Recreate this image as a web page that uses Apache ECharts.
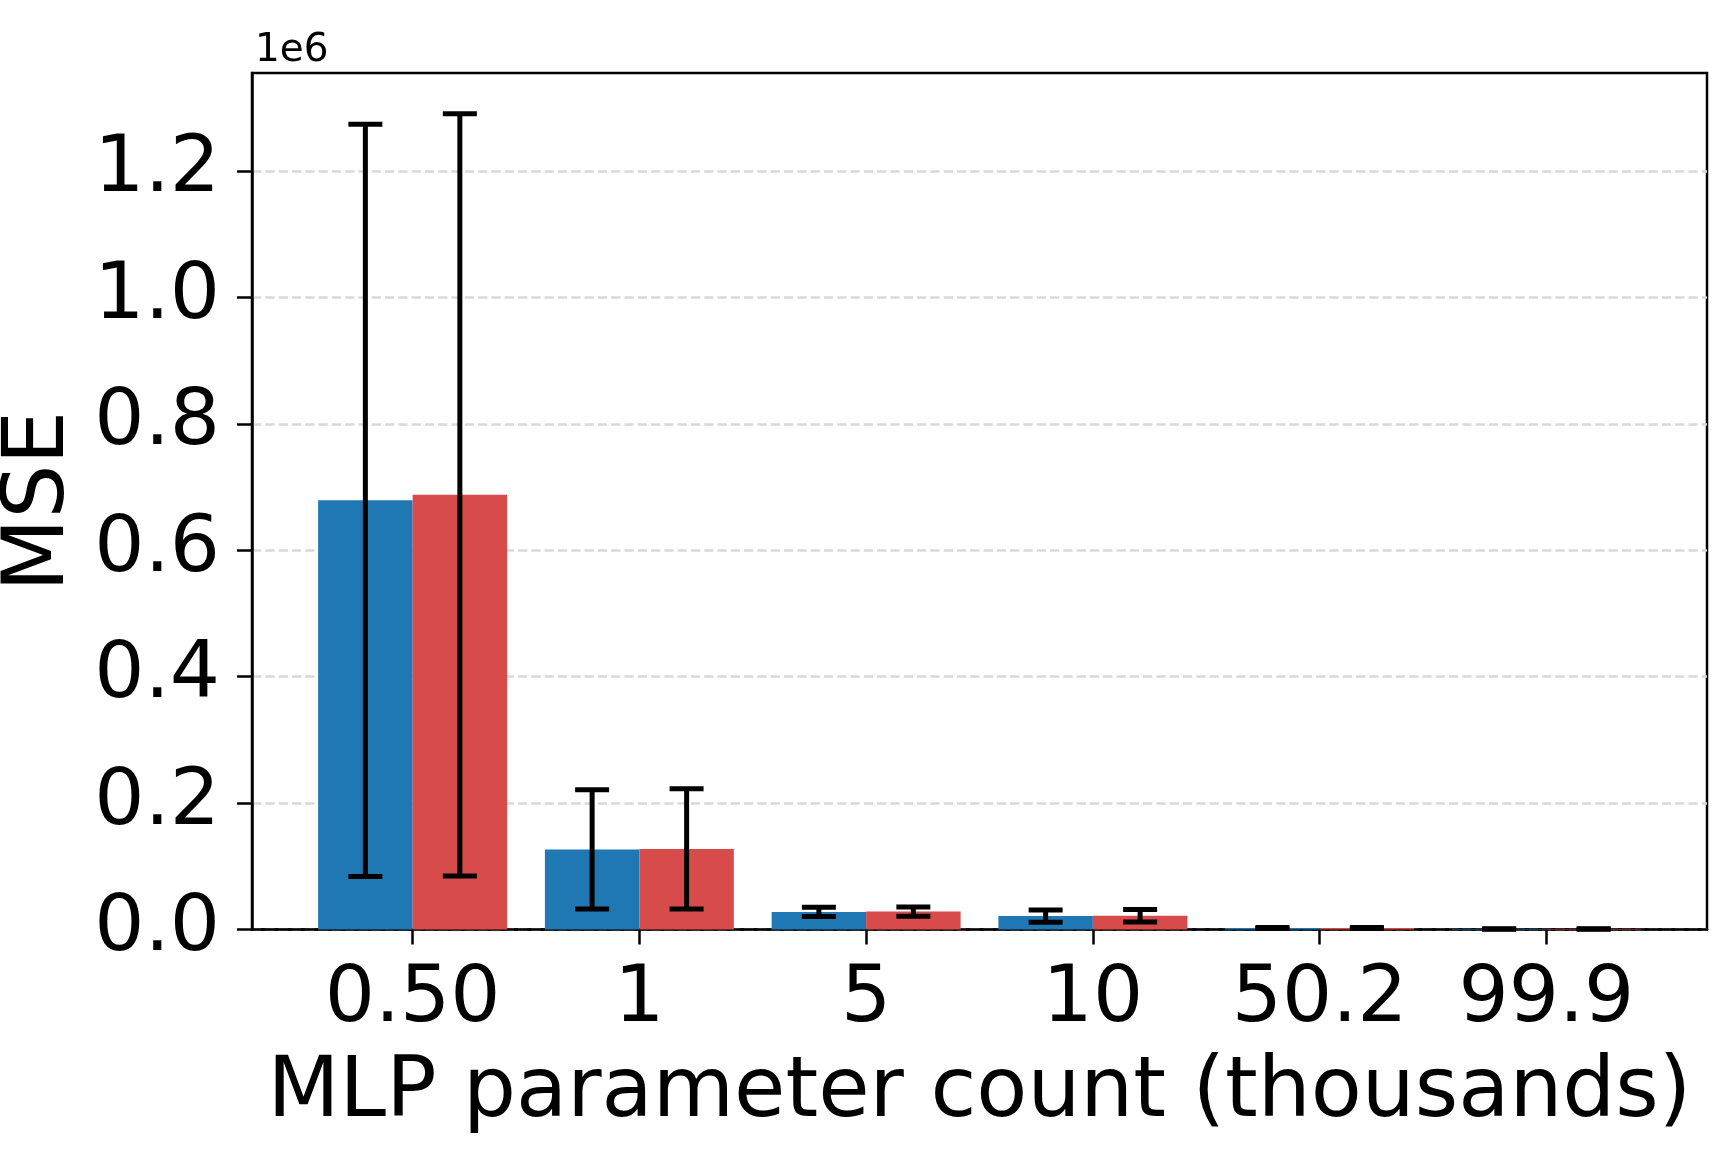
<!DOCTYPE html>
<html>
<head>
<meta charset="utf-8">
<script src="https://cdn.jsdelivr.net/npm/echarts@6/dist/echarts.min.js"></script>
<style>
  html, body { margin: 0; padding: 0; background: #fff; }
  #chart { width: 1735px; height: 1164px; }
</style>
</head>
<body>
<div id="chart"></div>
<script>
// data (MSE values)
const categories = ["0.50", "1", "5", "10", "50.2", "99.9"]
const blueMean = [679000, 126700, 27800, 21200, 2500, 800]
const blueErr = [595000, 94200, 7400, 9800, 800, 400]
const redMean = [687600, 127500, 28300, 21700, 2500, 800]
const redErr = [603000, 95000, 7400, 9800, 800, 400]
const yTicks = [0, 200000, 400000, 600000, 800000, 1000000, 1200000]
const xTicks = [0, 1, 2, 3, 4, 5]

const BLUE = "#1f77b4"
const RED = "#d84b4b"
const BAR_W = 5 / 12
const FONT = "DejaVu Sans"

function toRows(means, errs, offset) {
  return means.map((m, i) => [i + offset, m, errs[i]])
}

function renderBar(params, api) {
  let x = api.value(0)
  let y = api.value(1)
  let p0 = api.coord([x - BAR_W / 2, y])
  let p1 = api.coord([x + BAR_W / 2, 0])
  return {
    type: "rect",
    shape: { x: p0[0], y: p0[1], width: p1[0] - p0[0], height: p1[1] - p0[1] },
    style: { fill: api.visual("color") },
  }
}

function renderErr(params, api) {
  let x = api.value(0)
  let m = api.value(1)
  let e = api.value(2)
  let hi = api.coord([x, m + e])
  let lo = api.coord([x, m - e])
  let cap = 17
  let st = { stroke: "#000", lineWidth: 5 }
  return {
    type: "group",
    children: [
      { type: "line", shape: { x1: hi[0], y1: hi[1], x2: lo[0], y2: lo[1] }, style: st },
      { type: "line", shape: { x1: hi[0] - cap, y1: hi[1], x2: hi[0] + cap, y2: hi[1] }, style: st },
      { type: "line", shape: { x1: lo[0] - cap, y1: lo[1], x2: lo[0] + cap, y2: lo[1] }, style: st },
    ],
  }
}

let chart = echarts.init(document.getElementById("chart"), null, { renderer: "canvas" })

let option = {
  backgroundColor: "#fff",
  animation: false,
  title: {
    text: "1e6",
    left: 250,
    top: 26,
    textStyle: { fontFamily: FONT, fontSize: 39, fontWeight: "normal", color: "#000" },
  },
  grid: {
    left: 252,
    right: 28,
    top: 73,
    bottom: 234.5,
    outerBoundsMode: "none",
    containLabel: false,
    show: true,
    borderColor: "#000",
    borderWidth: 2.5,
  },
  xAxis: {
    type: "value",
    min: -0.7083,
    max: 5.7083,
    name: "MLP parameter count (thousands)",
    nameLocation: "middle",
    nameGap: 123,
    nameTextStyle: { fontFamily: FONT, fontSize: 83.5, color: "#000" },
    axisLine: { show: true, onZero: false, lineStyle: { color: "#000", width: 2.5 } },
    axisTick: {
      show: true,
      length: 15,
      lineStyle: { color: "#000", width: 2.5 },
      customValues: xTicks,
    },
    axisLabel: {
      fontFamily: FONT,
      fontSize: 79,
      color: "#000",
      margin: 31,
      customValues: xTicks,
      formatter: v => categories[Math.round(v)],
    },
    splitLine: { show: false },
  },
  yAxis: {
    type: "value",
    min: 0,
    max: 1355000,
    interval: 200000,
    name: "MSE",
    nameLocation: "middle",
    nameGap: 168,
    nameTextStyle: { fontFamily: FONT, fontSize: 85, color: "#000" },
    axisLine: { show: true, onZero: false, lineStyle: { color: "#000", width: 2.5 } },
    axisTick: {
      show: true,
      length: 15,
      lineStyle: { color: "#000", width: 2.5 },
      customValues: yTicks,
    },
    axisLabel: {
      fontFamily: FONT,
      fontSize: 79,
      color: "#000",
      margin: 32,
      customValues: yTicks,
      formatter: v => (v / 1e6).toFixed(1),
    },
    splitLine: {
      show: true,
      lineStyle: { color: "#d9d9d9", width: 2.5, type: [9.3, 4] },
    },
  },
  series: [
    {
      name: "blue",
      type: "custom",
      renderItem: renderBar,
      itemStyle: { color: BLUE },
      encode: { x: 0, y: 1 },
      data: toRows(blueMean, blueErr, -BAR_W / 2),
      z: 2,
    },
    {
      name: "red",
      type: "custom",
      renderItem: renderBar,
      itemStyle: { color: RED },
      encode: { x: 0, y: 1 },
      data: toRows(redMean, redErr, BAR_W / 2),
      z: 2,
    },
    {
      name: "blueErr",
      type: "custom",
      renderItem: renderErr,
      encode: { x: 0, y: 1 },
      data: toRows(blueMean, blueErr, -BAR_W / 2),
      z: 3,
    },
    {
      name: "redErr",
      type: "custom",
      renderItem: renderErr,
      encode: { x: 0, y: 1 },
      data: toRows(redMean, redErr, BAR_W / 2),
      z: 3,
    },
  ],
}

chart.setOption(option)
</script>
</body>
</html>
